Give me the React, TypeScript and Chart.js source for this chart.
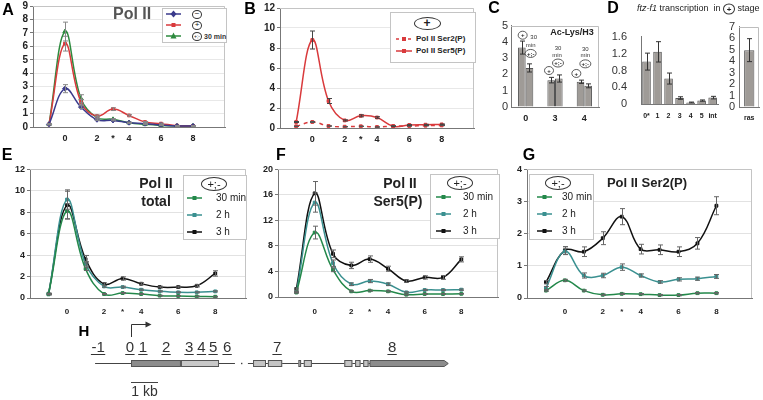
import React, { useEffect, useRef } from "react";
import { Chart, registerables } from "chart.js";
Chart.register(...registerables);

const FONT = "'Liberation Sans', Arial, Helvetica, sans-serif";

// ---------- shared amplicon positions ----------
const amplicons = [-1, 0, 1, 2, 3, 4, 5, 6, 7, 8];
const xTickValues = [0, 2, 3, 4, 6, 8];
const xTickLabels = ["0", "2", "*", "4", "6", "8"];

// ---------- Panel A: Pol II ----------
const aMinus = [0.2, 2.85, 1.48, 0.54, 0.49, 0.32, 0.25, 0.15, 0.08, 0.08];
const aMinusErr = [0.03, 0.3, 0.1, 0.05, 0.04, 0.03, 0.03, 0.02, 0.02, 0.02];
const aPlus = [0.2, 6.2, 1.85, 0.81, 1.33, 0.86, 0.37, 0.25, 0.1, 0.08];
const aPlusErr = [0.03, 0.55, 0.2, 0.08, 0.1, 0.06, 0.04, 0.04, 0.02, 0.02];
const aShift = [0.2, 7.1, 2.1, 0.69, 0.57, 0.32, 0.2, 0.12, 0.08, 0.08];
const aShiftErr = [0.03, 0.7, 0.3, 0.08, 0.05, 0.04, 0.03, 0.02, 0.02, 0.02];

// ---------- Panel B: Ser2(P) / Ser5(P) in + ----------
const bSer2 = [0.17, 0.6, 0.2, 0.13, 0.17, 0.1, 0.2, 0.2, 0.23, 0.26];
const bSer2Err = [0.02, 0.05, 0.02, 0.02, 0.02, 0.02, 0.02, 0.02, 0.02, 0.02];
const bSer5 = [0.6, 8.8, 2.7, 0.76, 1.22, 1.05, 0.17, 0.3, 0.33, 0.36];
const bSer5Err = [0.05, 0.9, 0.25, 0.06, 0.1, 0.08, 0.03, 0.04, 0.04, 0.04];

// ---------- Panel C: Ac-Lys/H3 ----------
const cGroups = ["0", "3", "4"];
const cPlus = [3.65, 1.65, 1.55];
const cPlusErr = [0.4, 0.17, 0.1];
const cShift = [2.4, 1.75, 1.3];
const cShiftErr = [0.25, 0.22, 0.12];

// ---------- Panel D: ftz-f1 transcription ----------
const dLabels = ["0*", "1", "2", "3", "4", "5", "int"];
const dValues = [1.01, 1.24, 0.61, 0.15, 0.045, 0.09, 0.16];
const dErrors = [0.2, 0.24, 0.13, 0.03, 0.01, 0.015, 0.03];
const rasLabels = ["ras"];
const rasValues = [4.95];
const rasErrors = [1.0];

// ---------- Panel E: Pol II total ----------
const e30 = [0.35, 8.1, 2.72, 0.37, 0.46, 0.37, 0.22, 0.19, 0.15, 0.12];
const e30Err = [0.05, 0.7, 0.15, 0.05, 0.05, 0.04, 0.03, 0.03, 0.03, 0.03];
const e2h = [0.35, 9.19, 3.19, 1.08, 1.02, 0.77, 0.62, 0.53, 0.53, 0.62];
const e2hErr = [0.05, 0.9, 0.2, 0.08, 0.08, 0.06, 0.05, 0.05, 0.05, 0.05];
const e3h = [0.4, 8.66, 3.62, 1.3, 1.82, 1.33, 1.02, 1.02, 1.14, 2.29];
const e3hErr = [0.05, 1.3, 0.35, 0.12, 0.15, 0.1, 0.08, 0.08, 0.1, 0.25];

// ---------- Panel F: Pol II Ser5(P) ----------
const f30 = [0.7, 10.1, 4.27, 0.89, 1.0, 0.89, 0.36, 0.47, 0.47, 0.5];
const f30Err = [0.1, 1.0, 0.3, 0.1, 0.1, 0.1, 0.05, 0.05, 0.05, 0.05];
const f2h = [0.8, 14.8, 5.3, 2.0, 2.5, 2.0, 0.73, 1.1, 1.1, 1.15];
const f2hErr = [0.1, 1.5, 0.5, 0.2, 0.25, 0.2, 0.1, 0.1, 0.1, 0.1];
const f3h = [1.25, 16.25, 6.77, 4.95, 5.94, 4.43, 2.5, 3.07, 3.07, 5.9];
const f3hErr = [0.15, 1.85, 0.6, 0.5, 0.5, 0.4, 0.2, 0.25, 0.3, 0.4];

// ---------- Panel G: Pol II Ser2(P) ----------
const g30 = [0.23, 0.55, 0.23, 0.1, 0.13, 0.12, 0.09, 0.09, 0.15, 0.15];
const g30Err = [0.02, 0.03, 0.02, 0.02, 0.02, 0.02, 0.02, 0.02, 0.02, 0.02];
const g2h = [0.31, 1.45, 0.7, 0.7, 0.96, 0.7, 0.5, 0.58, 0.6, 0.67];
const g2hErr = [0.05, 0.1, 0.08, 0.07, 0.1, 0.05, 0.04, 0.05, 0.05, 0.06];
const g3h = [0.49, 1.48, 1.44, 1.86, 2.53, 1.52, 1.5, 1.44, 1.7, 2.87];
const g3hErr = [0.05, 0.12, 0.15, 0.2, 0.25, 0.15, 0.15, 0.15, 0.18, 0.28];

// ---------- Panel H: gene map (kb from TSS) ----------
const hBackbone = [[-1.33, 3.85], [4.33, 11.5]];
const hBreakDots = [4.1];
const hDarkBox = [0, 1.85];
const hLightBox = [1.85, 3.26];
const hExons = [[4.52, 5.0], [5.07, 5.6], [6.2, 6.3], [6.4, 6.7], [7.9, 8.2], [8.3, 8.5], [8.6, 8.8]];
const hLastExon = [8.85, 11.75];
const hAmpliconNames = ["-1", "0", "1", "2", "3", "4", "5", "6", "7", "8"];
const hAmpliconKb = [-1.22, -0.04, 0.44, 1.3, 2.15, 2.61, 3.04, 3.56, 5.41, 9.67];
const hScaleBar = [0, 1];

// ---------- colors ----------
const BLUE = "#3a3a8c";
const RED = "#d93a3c";
const GREEN_A = "#2d8a3e";
const G30 = "#23884a";
const G2H = "#3a9090";
const G3H = "#111111";
const BAR_FILL = "#9f9b97";
const BAR_EDGE = "#555555";

// ---------- plugins ----------
const errorBarPlugin = {
  id: "errbars",
  afterDatasetsDraw(chart: any) {
    const { ctx } = chart;
    chart.data.datasets.forEach((ds: any, di: number) => {
      if (!ds.errors) return;
      const meta = chart.getDatasetMeta(di);
      const ys = chart.scales[meta.yAxisID];
      ctx.save();
      ctx.strokeStyle = ds.errorColor || "#555";
      ctx.lineWidth = 1;
      meta.data.forEach((el: any, i: number) => {
        const e = ds.errors[i];
        if (e == null) return;
        const raw = ds.data[i];
        const v = typeof raw === "number" ? raw : raw.y;
        const x = Math.round(el.x) + 0.5;
        const y1 = ys.getPixelForValue(v + e);
        const y2 = ys.getPixelForValue(v - e);
        const cap = ds.errorCap ?? 2.5;
        ctx.beginPath();
        ctx.moveTo(x, y1);
        ctx.lineTo(x, y2);
        ctx.moveTo(x - cap, y1);
        ctx.lineTo(x + cap, y1);
        ctx.moveTo(x - cap, y2);
        ctx.lineTo(x + cap, y2);
        ctx.stroke();
      });
      ctx.restore();
    });
  },
};

const framePlugin = {
  id: "frame",
  beforeDatasetsDraw(chart: any, _a: any, opts: any) {
    if (!opts || !opts.color) return;
    const { ctx } = chart;
    const { left, top, right, bottom } = chart.chartArea;
    ctx.save();
    ctx.strokeStyle = opts.color;
    ctx.lineWidth = 1;
    ctx.beginPath();
    ctx.moveTo(left, Math.round(top) + 0.5);
    ctx.lineTo(Math.round(right) - 0.5, Math.round(top) + 0.5);
    ctx.lineTo(Math.round(right) - 0.5, bottom);
    ctx.stroke();
    ctx.restore();
  },
};

function drawOval(ctx: any, x: number, y: number, w: number, h: number, text: string, size: number) {
  ctx.save();
  ctx.beginPath();
  ctx.ellipse(x, y, w / 2, h / 2, 0, 0, Math.PI * 2);
  ctx.fillStyle = "#fff";
  ctx.fill();
  ctx.strokeStyle = "#333";
  ctx.lineWidth = 0.8;
  ctx.stroke();
  ctx.fillStyle = "#222";
  ctx.font = `bold ${size}px ${FONT}`;
  ctx.textAlign = "center";
  ctx.textBaseline = "middle";
  ctx.fillText(text, x, y + 0.5);
  ctx.restore();
}

const notesPlugin = {
  id: "notes",
  afterDatasetsDraw(chart: any, _a: any, opts: any) {
    if (!opts || !opts.items) return;
    const { ctx } = chart;
    const xs = chart.scales.x;
    const ys = chart.scales.y;
    opts.items.forEach((it: any) => {
      const x = xs.getPixelForValue(it.cat) + it.dx;
      const y = ys.getPixelForValue(it.y);
      if (it.kind === "oval") drawOval(ctx, x, y, it.text.length > 1 ? 11 : 9, 8, it.text, 6);
      else {
        ctx.save();
        ctx.fillStyle = "#333";
        ctx.font = `6px ${FONT}`;
        ctx.textAlign = "center";
        ctx.textBaseline = "middle";
        ctx.fillText(it.text, x, y);
        ctx.restore();
      }
    });
  },
};

const genePlugin = {
  id: "gene",
  afterDraw(chart: any) {
    const { ctx } = chart;
    const xs = chart.scales.x;
    const top = chart.chartArea.top;
    const px = (v: number) => xs.getPixelForValue(v);
    const lineY = top + 48.5;
    const boxT = top + 45;
    const boxH = 7;
    ctx.save();
    ctx.strokeStyle = "#444";
    ctx.lineWidth = 1;
    hBackbone.forEach(([a, b]) => {
      ctx.beginPath();
      ctx.moveTo(px(a), lineY);
      ctx.lineTo(px(b), lineY);
      ctx.stroke();
    });
    ctx.fillStyle = "#444";
    hBreakDots.forEach((d) => ctx.fillRect(px(d) - 0.7, lineY - 0.7, 1.4, 1.4));
    const box = (a: number, b: number, fill: string) => {
      ctx.fillStyle = fill;
      ctx.fillRect(px(a), boxT, px(b) - px(a), boxH);
      ctx.strokeStyle = "#555";
      ctx.strokeRect(px(a) + 0.5, boxT + 0.5, px(b) - px(a) - 1, boxH - 1);
    };
    box(hDarkBox[0], hDarkBox[1], "#8c8c8c");
    box(hLightBox[0], hLightBox[1], "#c8c8c8");
    hExons.forEach(([a, b]) => box(a, b, "#c4c4c4"));
    const x0 = px(hLastExon[0]);
    const x1 = px(hLastExon[1]);
    ctx.beginPath();
    ctx.moveTo(x0, boxT + 0.5);
    ctx.lineTo(x1 - 4, boxT + 0.5);
    ctx.lineTo(x1, boxT + boxH / 2);
    ctx.lineTo(x1 - 4, boxT + boxH - 0.5);
    ctx.lineTo(x0, boxT + boxH - 0.5);
    ctx.closePath();
    ctx.fillStyle = "#8c8c8c";
    ctx.fill();
    ctx.strokeStyle = "#555";
    ctx.stroke();
    ctx.font = `15px ${FONT}`;
    ctx.textAlign = "center";
    ctx.textBaseline = "alphabetic";
    hAmpliconNames.forEach((n, i) => {
      const x = px(hAmpliconKb[i]);
      ctx.fillStyle = "#333";
      ctx.fillText(n, x, top + 37);
      const w = ctx.measureText(n).width;
      ctx.strokeStyle = "#333";
      ctx.beginPath();
      ctx.moveTo(x - w / 2 - 0.5, top + 39.5);
      ctx.lineTo(x + w / 2 + 0.5, top + 39.5);
      ctx.stroke();
    });
    const tss = Math.round(px(0)) + 0.5;
    ctx.strokeStyle = "#333";
    ctx.beginPath();
    ctx.moveTo(tss, top + 22);
    ctx.lineTo(tss, top + 9.5);
    ctx.lineTo(tss + 16, top + 9.5);
    ctx.stroke();
    ctx.fillStyle = "#333";
    ctx.beginPath();
    ctx.moveTo(tss + 20, top + 9.5);
    ctx.lineTo(tss + 14, top + 6.5);
    ctx.lineTo(tss + 14, top + 12.5);
    ctx.closePath();
    ctx.fill();
    ctx.strokeStyle = "#444";
    ctx.beginPath();
    ctx.moveTo(px(hScaleBar[0]), top + 67.5);
    ctx.lineTo(px(hScaleBar[1]), top + 67.5);
    ctx.stroke();
    ctx.fillStyle = "#333";
    ctx.font = `14px ${FONT}`;
    ctx.textBaseline = "middle";
    ctx.fillText("1 kb", (px(hScaleBar[0]) + px(hScaleBar[1])) / 2, top + 77);
    ctx.restore();
  },
};

// ---------- builders ----------
type Series = { values: number[]; errors: number[]; color: string; point: string; radius: number; dash?: number[]; errColor?: string };
type Plot = { l: number; t: number; r: number; b: number };

function lineSpec(p: {
  plot: Plot; yW: number; yMax: number; yStep: number; xMax: number;
  yFont: number; xFont: number; xPad: number; series: Series[];
  grid: string; frame: string;
}) {
  const padT = 7;
  const padR = 3;
  const xH = p.xFont + p.xPad + 4;
  const box = {
    left: p.plot.l - p.yW,
    top: p.plot.t - padT,
    width: p.yW + (p.plot.r - p.plot.l) + padR,
    height: padT + (p.plot.b - p.plot.t) + xH,
  };
  const config: any = {
    type: "line",
    data: {
      datasets: p.series.map((s) => ({
        data: amplicons.map((x, i) => ({ x, y: s.values[i] })),
        errors: s.errors,
        errorColor: s.errColor ?? "#666",
        borderColor: s.color,
        backgroundColor: s.color,
        borderWidth: 1.5,
        borderDash: s.dash ?? [],
        pointStyle: s.point,
        pointRadius: s.radius,
        pointBorderWidth: 1,
        tension: 0.4,
      })),
    },
    options: {
      animation: false,
      responsive: false,
      events: [],
      layout: { padding: { top: padT, right: padR, left: 0, bottom: 0 } },
      plugins: { legend: { display: false }, tooltip: { enabled: false }, frame: { color: p.frame } },
      scales: {
        x: {
          type: "linear",
          min: -2,
          max: p.xMax,
          afterBuildTicks: (s: any) => {
            s.ticks = xTickValues.map((v) => ({ value: v }));
          },
          afterFit: (s: any) => {
            s.height = xH;
          },
          ticks: {
            autoSkip: false,
            maxRotation: 0,
            padding: p.xPad,
            color: "#222",
            font: { family: FONT, size: p.xFont, weight: "bold" },
            callback: (v: any) => {
              const k = xTickValues.indexOf(Number(v));
              return k >= 0 ? xTickLabels[k] : "";
            },
          },
          grid: { display: false, drawTicks: false },
          border: { color: "#777", width: 1 },
        },
        y: {
          min: 0,
          max: p.yMax,
          afterFit: (s: any) => {
            s.width = p.yW;
          },
          ticks: { stepSize: p.yStep, autoSkip: false, padding: 2, color: "#222", font: { family: FONT, size: p.yFont, weight: "bold" } },
          grid: { color: p.grid, tickColor: "#777", tickLength: 3, drawTicks: true },
          border: { color: "#777", width: 1 },
        },
      },
    },
    plugins: [framePlugin, errorBarPlugin],
  };
  return { box, config };
}

function barSpec(p: {
  plot: Plot; yW: number; yMax: number; yStep: number; labels: string[];
  datasets: { values: number[]; errors: number[] }[];
  barPct: number; catPct: number; yFont: number; xFont: number; xPad: number; yPad: number;
  yTickFmt?: (v: number) => string; frame?: string; notes?: any[]; drawYTicks?: boolean;
}) {
  const padT = 7;
  const padR = 1;
  const xH = p.xFont + p.xPad + 4;
  const box = {
    left: p.plot.l - p.yW,
    top: p.plot.t - padT,
    width: p.yW + (p.plot.r - p.plot.l) + padR,
    height: padT + (p.plot.b - p.plot.t) + xH,
  };
  const config: any = {
    type: "bar",
    data: {
      labels: p.labels,
      datasets: p.datasets.map((d) => ({
        data: d.values,
        errors: d.errors,
        errorColor: "#333",
        errorCap: 2.5,
        backgroundColor: BAR_FILL,
        borderColor: BAR_EDGE,
        borderWidth: 1,
        barPercentage: p.barPct,
        categoryPercentage: p.catPct,
      })),
    },
    options: {
      animation: false,
      responsive: false,
      events: [],
      layout: { padding: { top: padT, right: padR, left: 0, bottom: 0 } },
      plugins: {
        legend: { display: false },
        tooltip: { enabled: false },
        frame: { color: p.frame },
        notes: { items: p.notes },
      },
      scales: {
        x: {
          afterFit: (s: any) => {
            s.height = xH;
          },
          ticks: { padding: p.xPad, color: "#222", maxRotation: 0, autoSkip: false, font: { family: FONT, size: p.xFont, weight: "bold" } },
          grid: { display: false, drawTicks: false },
          border: { color: "#777", width: 1 },
        },
        y: {
          min: 0,
          max: p.yMax,
          afterFit: (s: any) => {
            s.width = p.yW;
          },
          ticks: {
            stepSize: p.yStep,
            autoSkip: false,
            padding: p.yPad,
            color: "#333",
            font: { family: FONT, size: p.yFont },
            callback: (v: any) => (p.yTickFmt ? p.yTickFmt(Number(v)) : String(v)),
          },
          grid: { display: true, drawOnChartArea: false, drawTicks: !!p.drawYTicks, tickLength: 3, color: "#777" },
          border: { color: "#777", width: 1 },
        },
      },
    },
    plugins: [framePlugin, errorBarPlugin, notesPlugin],
  };
  return { box, config };
}

function ChartBox({ spec }: { spec: { box: any; config: any } }) {
  const ref = useRef<HTMLCanvasElement>(null);
  useEffect(() => {
    const chart = new Chart(ref.current as HTMLCanvasElement, spec.config);
    return () => chart.destroy();
  }, []);
  const b = spec.box;
  return (
    <canvas
      ref={ref}
      width={b.width}
      height={b.height}
      style={{ position: "absolute", left: b.left, top: b.top, width: b.width, height: b.height }}
    />
  );
}

// ---------- HTML text helpers ----------
function T(props: any) {
  const { x, y, size = 10, bold = false, italic = false, color = "#222", align = "center", children } = props;
  const tx = align === "center" ? "-50%" : align === "right" ? "-100%" : "0";
  return (
    <div
      style={{
        position: "absolute",
        left: x,
        top: y,
        transform: `translate(${tx},-50%)`,
        fontFamily: FONT,
        fontSize: size,
        fontWeight: bold ? 700 : 400,
        fontStyle: italic ? "italic" : "normal",
        color,
        lineHeight: 1,
        whiteSpace: "nowrap",
      }}
    >
      {children}
    </div>
  );
}

function Oval({ cx, cy, w, h, size, text, bold = true }: any) {
  return (
    <div
      style={{
        position: "absolute",
        left: cx - w / 2,
        top: cy - h / 2,
        width: w - 2,
        height: h - 2,
        border: "1px solid #333",
        borderRadius: "50%",
        display: "flex",
        alignItems: "center",
        justifyContent: "center",
        fontFamily: FONT,
        fontSize: size,
        fontWeight: bold ? 700 : 400,
        color: "#222",
        lineHeight: 1,
        background: "#fff",
      }}
    >
      {text}
    </div>
  );
}

function Sample({ x, y, w = 15, color, point, dash }: any) {
  const m = w / 2;
  let marker: any = <rect x={m - 2} y={2} width={4} height={4} fill={color} />;
  if (point === "rectRot") marker = <polygon points={`${m},0.5 ${m + 3},4 ${m},7.5 ${m - 3},4`} fill={color} />;
  if (point === "triangle") marker = <polygon points={`${m},0.5 ${m + 3},6.5 ${m - 3},6.5`} fill={color} />;
  return (
    <svg width={w} height={8} style={{ position: "absolute", left: x, top: y - 4 }}>
      <line x1={0} y1={4} x2={w} y2={4} stroke={color} strokeWidth={1.5} strokeDasharray={dash} />
      {marker}
    </svg>
  );
}

function LegendBox({ l, t, w, h }: any) {
  return (
    <div
      style={{
        position: "absolute",
        left: l,
        top: t,
        width: w - 2,
        height: h - 2,
        border: "1px solid #c4c4c4",
        background: "#fff",
      }}
    />
  );
}

function TimeLegend({ l, t, w, h, ovalX, sampleX, textX }: any) {
  const rows = [
    { c: G30, label: "30 min", y: t + 23 },
    { c: G2H, label: "2 h", y: t + 40 },
    { c: G3H, label: "3 h", y: t + 57 },
  ];
  return (
    <>
      <LegendBox l={l} t={t} w={w} h={h} />
      <Oval cx={ovalX} cy={t + 9} w={26} h={14} size={11} text="+;-" bold={false} />
      {rows.map((r) => (
        <React.Fragment key={r.label}>
          <Sample x={sampleX} y={r.y} color={r.c} point="rect" />
          <T x={textX} y={r.y} align="left" size={10} color="#222">
            {r.label}
          </T>
        </React.Fragment>
      ))}
    </>
  );
}

// ---------- specs ----------
const specA = lineSpec({
  plot: { l: 33, t: 5, r: 227, b: 127 },
  yW: 30, yMax: 9, yStep: 1, xMax: 10, yFont: 10, xFont: 9, xPad: 6,
  grid: "#e8e8e8", frame: "#c4c4c4",
  series: [
    { values: aMinus, errors: aMinusErr, color: BLUE, point: "rectRot", radius: 2.5, errColor: "#888" },
    { values: aPlus, errors: aPlusErr, color: RED, point: "rect", radius: 2, errColor: "#888" },
    { values: aShift, errors: aShiftErr, color: GREEN_A, point: "triangle", radius: 2.5, errColor: "#888" },
  ],
});

const specB = lineSpec({
  plot: { l: 280, t: 7, r: 476, b: 128 },
  yW: 25, yMax: 12, yStep: 2, xMax: 10, yFont: 10, xFont: 9, xPad: 6,
  grid: "#e8e8e8", frame: "#c4c4c4",
  series: [
    { values: bSer2, errors: bSer2Err, color: RED, point: "rect", radius: 2, dash: [4, 4], errColor: "#555" },
    { values: bSer5, errors: bSer5Err, color: RED, point: "rect", radius: 2, errColor: "#444" },
  ],
});

const cNotes = [
  { cat: 0, dx: -3, y: 4.41, kind: "oval", text: "+" },
  { cat: 0, dx: 8, y: 4.29, kind: "text", text: "30" },
  { cat: 0, dx: 5, y: 3.78, kind: "text", text: "min" },
  { cat: 0, dx: 5, y: 3.29, kind: "oval", text: "+;-" },
  { cat: 1, dx: 3, y: 3.59, kind: "text", text: "30" },
  { cat: 1, dx: 2, y: 3.18, kind: "text", text: "min" },
  { cat: 1, dx: 3, y: 2.7, kind: "oval", text: "+;-" },
  { cat: 1, dx: -6, y: 2.24, kind: "oval", text: "+" },
  { cat: 2, dx: 1, y: 3.53, kind: "text", text: "30" },
  { cat: 2, dx: 1, y: 3.18, kind: "text", text: "min" },
  { cat: 2, dx: 1, y: 2.65, kind: "oval", text: "+;-" },
  { cat: 2, dx: -8, y: 2.06, kind: "oval", text: "+" },
];

const specC = barSpec({
  plot: { l: 511, t: 23, r: 599, b: 107 },
  yW: 12, yMax: 5, yStep: 1, labels: cGroups,
  datasets: [
    { values: cPlus, errors: cPlusErr },
    { values: cShift, errors: cShiftErr },
  ],
  barPct: 1, catPct: 0.52, yFont: 11, xFont: 9, xPad: 6, yPad: 3, frame: "#bdbdbd", notes: cNotes, drawYTicks: false,
});

const specD = barSpec({
  plot: { l: 641, t: 23, r: 723, b: 107 },
  yW: 40, yMax: 1.6, yStep: 0.4, labels: dLabels,
  datasets: [{ values: dValues, errors: dErrors }],
  barPct: 0.78, catPct: 1, yFont: 11, xFont: 7, xPad: 7, yPad: 14,
  yTickFmt: (v) => (v === 0 ? "0" : v.toFixed(1)),
});

const specRas = barSpec({
  plot: { l: 739, t: 23, r: 761, b: 107 },
  yW: 14, yMax: 7, yStep: 1, labels: rasLabels,
  datasets: [{ values: rasValues, errors: rasErrors }],
  barPct: 0.5, catPct: 1, yFont: 11, xFont: 7, xPad: 7, yPad: 4, frame: "#bdbdbd",
});

const specE = lineSpec({
  plot: { l: 30, t: 169, r: 248, b: 298 },
  yW: 28, yMax: 12, yStep: 2, xMax: 9.66, yFont: 9, xFont: 8, xPad: 9,
  grid: "#e2e2e2", frame: "#c4c4c4",
  series: [
    { values: e30, errors: e30Err, color: G30, point: "rect", radius: 2 },
    { values: e2h, errors: e2hErr, color: G2H, point: "rect", radius: 2 },
    { values: e3h, errors: e3hErr, color: G3H, point: "rect", radius: 2 },
  ],
});

const specF = lineSpec({
  plot: { l: 278, t: 169, r: 500, b: 297 },
  yW: 25, yMax: 20, yStep: 4, xMax: 10, yFont: 9, xFont: 8, xPad: 10,
  grid: "#e2e2e2", frame: "#c4c4c4",
  series: [
    { values: f30, errors: f30Err, color: G30, point: "rect", radius: 2 },
    { values: f2h, errors: f2hErr, color: G2H, point: "rect", radius: 2 },
    { values: f3h, errors: f3hErr, color: G3H, point: "rect", radius: 2 },
  ],
});

const specG = lineSpec({
  plot: { l: 527, t: 169, r: 754, b: 298 },
  yW: 24, yMax: 4, yStep: 1, xMax: 9.88, yFont: 9, xFont: 8, xPad: 9,
  grid: "#e2e2e2", frame: "#c4c4c4",
  series: [
    { values: g30, errors: g30Err, color: G30, point: "rect", radius: 2 },
    { values: g2h, errors: g2hErr, color: G2H, point: "rect", radius: 2 },
    { values: g3h, errors: g3hErr, color: G3H, point: "rect", radius: 2 },
  ],
});

// Gene map: 1 kb = 27 px, TSS at page x 131; canvas spans x 80..480
const specH = {
  box: { left: 80, top: 315, width: 400, height: 85 },
  config: {
    type: "line",
    data: { datasets: [] },
    options: {
      animation: false,
      responsive: false,
      events: [],
      layout: { padding: 0 },
      plugins: { legend: { display: false }, tooltip: { enabled: false } },
      scales: {
        x: { type: "linear", min: (80 - 131) / 27, max: (480 - 131) / 27, display: false },
        y: { min: 0, max: 1, display: false },
      },
    },
    plugins: [genePlugin],
  },
};

export default function App() {
  return (
    <div style={{ position: "absolute", left: 0, top: 0, width: 763, height: 400, background: "#fff", overflow: "hidden" }}>
      <ChartBox spec={specA} />
      <ChartBox spec={specB} />
      <ChartBox spec={specC} />
      <ChartBox spec={specD} />
      <ChartBox spec={specRas} />
      <ChartBox spec={specE} />
      <ChartBox spec={specF} />
      <ChartBox spec={specG} />
      <ChartBox spec={specH} />

      {/* panel letters */}
      <T x={8} y={10} size={16} bold color="#000">A</T>
      <T x={250} y={9} size={16} bold color="#000">B</T>
      <T x={494} y={8} size={16} bold color="#000">C</T>
      <T x={613} y={8} size={16} bold color="#000">D</T>
      <T x={7} y={155} size={16} bold color="#000">E</T>
      <T x={281} y={155} size={16} bold color="#000">F</T>
      <T x={529} y={155} size={16} bold color="#000">G</T>
      <T x={84} y={330} size={15} bold color="#000">H</T>

      {/* A title + legend */}
      <T x={113} y={14} align="left" size={16} bold color="#555">Pol II</T>
      <LegendBox l={162} t={8} w={65} h={35} />
      <Sample x={166} y={14} color={BLUE} point="rectRot" />
      <Sample x={166} y={25} color={RED} point="rect" />
      <Sample x={166} y={36} color={GREEN_A} point="triangle" />
      <Oval cx={197} cy={14} w={10} h={9} size={8} text="−" bold={false} />
      <Oval cx={197} cy={25} w={10} h={9} size={8} text="+" bold={false} />
      <Oval cx={197} cy={36} w={10} h={9} size={5} text="+;-" bold={false} />
      <T x={204} y={36} align="left" size={7} bold color="#333">30 min</T>

      {/* B legend */}
      <LegendBox l={390} t={12} w={86} h={51} />
      <Oval cx={427} cy={23} w={27} h={13} size={12} text="+" />
      <Sample x={396} y={39} w={16} color={RED} point="rect" dash="3 3" />
      <Sample x={396} y={51} w={16} color={RED} point="rect" />
      <T x={416} y={39} align="left" size={8} bold color="#222">Pol II Ser2(P)</T>
      <T x={416} y={51} align="left" size={8} bold color="#222">Pol II Ser5(P)</T>

      {/* C title */}
      <T x={572} y={32} size={9} bold color="#222">Ac-Lys/H3</T>

      {/* D title */}
      <T x={637} y={9} align="left" size={9} color="#222">
        <i>ftz-f1</i> transcription&nbsp; in{" "}
        <span
          style={{
            display: "inline-block",
            width: 10,
            height: 9,
            border: "1px solid #333",
            borderRadius: "50%",
            textAlign: "center",
            lineHeight: "9px",
            fontSize: 8,
            fontWeight: 700,
            verticalAlign: "middle",
          }}
        >
          +
        </span>{" "}
        stage
      </T>

      {/* E title + legend */}
      <T x={156} y={183} size={14} bold color="#222">Pol II</T>
      <T x={156} y={201} size={14} bold color="#222">total</T>
      <TimeLegend l={183} t={175} w={64} h={65} ovalX={214} sampleX={187} textX={216} />

      {/* F title + legend */}
      <T x={400} y={183} size={14} bold color="#222">Pol II</T>
      <T x={398} y={201} size={14} bold color="#222">Ser5(P)</T>
      <TimeLegend l={430} t={174} w={70} h={65} ovalX={460} sampleX={436} textX={463} />

      {/* G title + legend */}
      <T x={647} y={182} size={13} bold color="#222">Pol II Ser2(P)</T>
      <TimeLegend l={529} t={174} w={65} h={66} ovalX={558} sampleX={537} textX={562} />
    </div>
  );
}
